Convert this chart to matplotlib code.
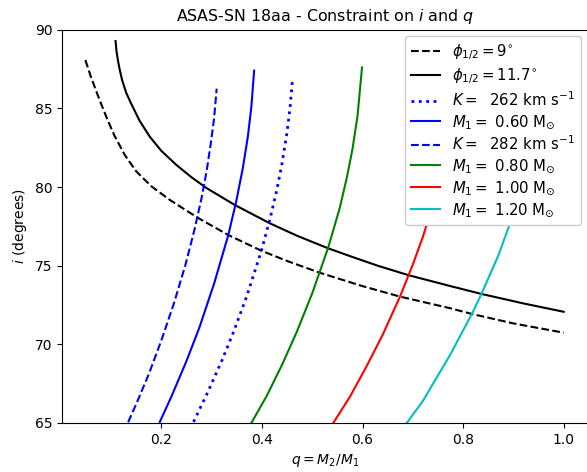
import numpy as np
import matplotlib
matplotlib.use('Agg')
import matplotlib.pyplot as plt

# disc eclipse half-width constraints
qPhi9 = [0.049, 0.06, 0.077, 0.092, 0.107, 0.128, 0.150, 0.18, 0.216, 0.25, 0.276, 0.333, 0.399, 0.45, 0.515, 0.60, 0.675, 0.775, 0.8175, 0.90, 1.0]
iPhi9 = [88.07, 87.0, 85.55, 84.35, 83.25, 82.0, 81.0, 80.05, 79.2, 78.5, 77.98, 76.95, 75.95, 75.3, 74.55, 73.7, 73.03, 72.29, 71.93, 71.33, 70.74]

qPhi117 = [0.109, 0.111, 0.114, 0.117, 0.122, 0.130, 0.140, 0.157, 0.177, 0.20, 0.23, 0.26, 0.29, 0.346, 0.416, 0.47, 0.532, 0.575, 0.63, 0.691, 0.775, 0.837, 0.92, 1.0]
iPhi117 = [89.28, 88.6, 88.0, 87.5, 86.8, 86.0, 85.3, 84.2, 83.2, 82.3, 81.4, 80.62, 79.93, 78.86, 77.69, 76.9, 76.1, 75.61, 75.0, 74.4, 73.7, 73.2, 72.6, 72.07]

# radial velocity curves
qK262 = [0.264, 0.29, 0.32, 0.343, 0.37, 0.399, 0.416, 0.43, 0.44, 0.45, 0.456, 0.461]
iK262 = [65.07, 66.8, 68.94, 70.74, 73.07, 75.96, 77.96, 79.87, 81.5, 83.5, 85.07, 86.9]

qK282 = [0.134, 0.15, 0.175, 0.20, 0.225, 0.248, 0.266, 0.28, 0.29, 0.298, 0.305, 0.310]
iK282 = [65.05, 66.2, 68.1, 70.25, 72.6, 75.06, 77.3, 79.3, 81.0, 82.7, 84.4, 86.25]

# primary mass curves
qM060 = [0.197, 0.22, 0.25, 0.276, 0.305, 0.333, 0.349, 0.362, 0.372, 0.379, 0.3845]
iM060 = [65.07, 66.68, 68.94, 71.1, 73.87, 76.93, 79.1, 81.2, 83.2, 85.1, 87.4]
qM080 = [0.379, 0.41, 0.44, 0.469, 0.50, 0.532, 0.555, 0.5685, 0.58, 0.59, 0.599]
iM080 = [65.0, 66.75, 68.7, 70.77, 73.24, 76.17, 78.7, 80.55, 82.4, 84.5, 87.6]
qM100 = [0.5418, 0.575, 0.608, 0.64, 0.675, 0.70, 0.72, 0.74, 0.755, 0.77, 0.78, 0.787]
iM100 = [65.0, 66.67, 68.6, 70.6, 73.07, 75.07, 76.83, 78.9, 80.7, 83.0, 85.07, 87.3]
qM120 = [0.688, 0.72, 0.7745, 0.8175, 0.837, 0.87, 0.894, 0.915, 0.93, 0.945, 0.955, 0.958]
iM120 = [65.0, 66.4, 69.35, 71.94, 73.24, 75.65, 77.75, 79.87, 81.7, 84.1, 86.4, 87.5]

K1, K2 = 262, 282
masses = [0.60, 0.80, 1.00, 1.20]

fig = plt.figure(figsize=(5.87, 4.72), dpi=100)
ax = fig.add_axes([62/587, 49/472, 1.001 - 62/587, (423 - 29.7)/472])

ax.plot(qPhi9, iPhi9, 'k--', lw=1.5, label=r'$\phi_{1/2} = 9^{\circ}$')
ax.plot(qPhi117, iPhi117, 'k-', lw=1.5, label=r'$\phi_{1/2} = 11.7^{\circ}$')
ax.plot(qK262, iK262, 'b:', lw=2, label=r'$K = $ %4d km s$^{-1}$' % K1)
ax.plot(qM060, iM060, 'b-', lw=1.5, label=r'$M_1 = $ %.2f M$_{\odot}$' % masses[0])
ax.plot(qK282, iK282, 'b--', lw=1.5, label=r'$K = $ %4d km s$^{-1}$' % K2)
ax.plot(qM080, iM080, 'g-', lw=1.5, label=r'$M_1 = $ %.2f M$_{\odot}$' % masses[1])
ax.plot(qM100, iM100, 'r-', lw=1.5, label=r'$M_1 = $ %.2f M$_{\odot}$' % masses[2])
ax.plot(qM120, iM120, 'c-', lw=1.5, label=r'$M_1 = $ %.2f M$_{\odot}$' % masses[3])

ax.set_xlim(0.0025, 1.0475)
ax.set_ylim(65, 90)
ax.set_xticks([0.2, 0.4, 0.6, 0.8, 1.0])
ax.set_xlabel(r'$q = M_2/M_1$')
ax.set_ylabel(r'$i$ (degrees)')
ax.set_title(r'ASAS-SN 18aa - Constraint on $i$ and $q$', fontsize=11.4)
ax.legend(loc='upper right', framealpha=1, fontsize=10.7, labelspacing=0.26,
          borderaxespad=0.45)

fig.savefig('out.png', dpi=100)
